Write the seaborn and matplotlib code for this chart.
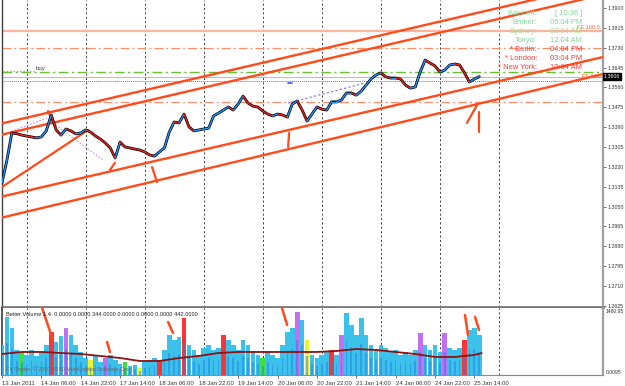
import matplotlib
matplotlib.use("Agg")
import matplotlib.pyplot as plt
import seaborn as sns
import pandas as pd
import numpy as np

sns.set_theme(style="white")
plt.rcParams['font.family'] = ['Liberation Sans', 'DejaVu Sans']

# ---------------- data ----------------
bars = list(range(0, 196, 2))
close = [1.3151, 1.3249, 1.3365, 1.3362, 1.3356, 1.3352, 1.3348, 1.3344, 1.3348, 1.3374,
         1.3442, 1.3378, 1.3356, 1.3382, 1.3374, 1.3361, 1.3365, 1.3378, 1.3369, 1.3352,
         1.3339, 1.3322, 1.3301, 1.3258, 1.3326, 1.3305, 1.3301, 1.3296, 1.3292, 1.3284,
         1.3271, 1.3266, 1.3284, 1.3301, 1.3369, 1.3412, 1.3408, 1.3446, 1.3391, 1.3374,
         1.3378, 1.3382, 1.3386, 1.3438, 1.3450, 1.3463, 1.3476, 1.3463, 1.3489, 1.3523,
         1.3493, 1.3480, 1.3476, 1.3459, 1.3446, 1.3438, 1.3446, 1.3442, 1.3433, 1.3489,
         1.3502, 1.3463, 1.3416, 1.3446, 1.3476, 1.3467, 1.3463, 1.3498, 1.3498, 1.3506,
         1.3536, 1.3536, 1.3527, 1.3544, 1.3570, 1.3596, 1.3613, 1.3622, 1.3605, 1.3600,
         1.3600, 1.3596, 1.3570, 1.3557, 1.3562, 1.3626, 1.3677, 1.3664, 1.3652, 1.3626,
         1.3634, 1.3656, 1.3660, 1.3656, 1.3622, 1.3583, 1.3596, 1.3606]

volume = [696, 1346, 1090, 580, 534, 464, 580, 441, 534, 696,
          998, 766, 905, 1090, 928, 696, 534, 394, 348, 441,
          302, 394, 464, 348, 255, 302, 209, 232, 162, 302,
          348, 394, 348, 580, 928, 812, 882, 1322, 696, 580,
          464, 626, 696, 580, 626, 928, 812, 696, 580, 812,
          696, 534, 464, 394, 534, 464, 394, 696, 998, 1090,
          1460, 1276, 812, 464, 394, 464, 534, 580, 464, 928,
          1440, 1160, 928, 1322, 928, 696, 580, 696, 626, 534,
          580, 464, 534, 464, 580, 974, 696, 580, 696, 534,
          974, 626, 580, 626, 812, 1044, 1090, 928]
vol_type = list("nnnngnnnnn" "rnnmnnnnyn" "nmnnngnnyn" "nnrnnnnrnn"
                "nnnnnrnnnn" "nnngnnnnnn" "mnynnnnrnm" "nnnnnnnnnn"
                "nnnnnmnnnn" "mnnnrnnn")

vma_bars = [0, 8, 16, 24, 32, 40, 48, 56, 64, 72, 80, 88, 96, 104, 112, 120,
            128, 136, 144, 152, 160, 168, 176, 184, 192, 195]
vma = [487, 534, 534, 510, 487, 441, 394, 325, 325, 394, 441, 510, 534, 534, 534, 534,
       534, 557, 603, 580, 534, 487, 418, 418, 464, 510]

tick_bars = [0, 16, 32, 48, 64, 80, 96, 112, 128, 144, 160, 176, 192]
tick_labels = ["13 Jan 2011", "14 Jan 06:00", "14 Jan 22:00", "17 Jan 14:00",
               "18 Jan 06:00", "18 Jan 22:00", "19 Jan 14:00", "20 Jan 06:00",
               "20 Jan 22:00", "21 Jan 14:00", "24 Jan 06:00", "24 Jan 22:00",
               "25 Jan 14:00"]
day_bars = [10, 34, 58, 82, 106, 130, 154, 178, 202]
price_ticks = [1.3900, 1.3815, 1.3730, 1.3645, 1.3560, 1.3475, 1.3390, 1.3305,
               1.3220, 1.3135, 1.3050, 1.2965, 1.2880, 1.2795, 1.2710, 1.2625]

# channel lines (start bar, start price, end bar, end price)
chan_b0 = [0, 0, 0, 0]
chan_p0 = [1.3406, 1.3358, 1.3093, 1.3003]
chan_b1 = [244.3, 244.3, 244.3, 244.3]
chan_p1 = [1.4004, 1.3957, 1.3690, 1.3617]

# short annotation strokes in price panel
strk_b0 = [0, 18.7, 43.9, 61.0, 116.7, 189.0, 193.9]
strk_p0 = [1.3134, 1.3459, 1.3207, 1.3219, 1.3365, 1.3408, 1.3455]
strk_b1 = [35.0, 20.7, 45.9, 63.0, 116.3, 193.1, 193.9]
strk_p1 = [1.3378, 1.3412, 1.3237, 1.3155, 1.3305, 1.3485, 1.3369]

# strokes in volume panel
vstrk_b0 = [16.3, 42.7, 67.5, 113.8, 188.2, 192.3]
vstrk_v0 = [1554, 766, 1230, 1554, 1392, 1346]
vstrk_b1 = [20.7, 43.9, 69.5, 115.9, 189.4, 193.9]
vstrk_v1 = [812, 534, 974, 1160, 928, 1044]

# horizontal levels
lvl_fe100 = 1.3803
lvl_upper = 1.3730
lvl_buy = 1.3627
lvl_bid = 1.3603
lvl_fe618 = 1.3588
lvl_lower = 1.3498
last_price = 1.3606

info_labels = ["Bar Left:", "Broker:", "Sydney:", "Tokyo:", "* Berlin:", "* London:", "* New York:"]
info_values = ["[ 10:36 ]", "05:04 PM", "02:04 AM", "12:04 AM", "04:04 PM", "03:04 PM", "10:04 AM"]

# ---------------- figure ----------------
W, H = 625, 386
fig = plt.figure(figsize=(W / 100, H / 100), dpi=100)
fig.patch.set_facecolor('white')


def px_axes(l, t, r, b):
    return fig.add_axes([l / W, 1 - b / H, (r - l) / W, (b - t) / H])


ax = px_axes(2, 0, 603, 307)
axv = px_axes(2, 308, 603, 375)
for a in (ax, axv):
    a.set_facecolor('white')
    a.set_xlim(0, 244.3)

ax.set_ylim(1.3934 - 307 / 2337, 1.3934)
axv.set_ylim(0, 1553.7)

ORG = '#FF4A1C'
grid_kw = dict(color='#3a3a3a', lw=0.7, linestyle=(0, (2, 2.5)), zorder=1)
for b in day_bars:
    ax.axvline(b, **grid_kw)
    axv.axvline(b, **grid_kw)

# horizontal levels
ax.axhline(lvl_fe100, color='#FFB39E', lw=1.6, zorder=2)
ax.axhline(lvl_upper, color='#FF8C6A', lw=0.9, linestyle=(0, (7, 2.5, 1.5, 2.5)), zorder=2)
ax.axhline(lvl_lower, color='#FF8C6A', lw=0.9, linestyle=(0, (7, 2.5, 1.5, 2.5)), zorder=2)
ax.axhline(lvl_buy, color='#66C22E', lw=1.0, linestyle=(0, (7, 2.5, 1.5, 2.5)), zorder=2)
ax.axhline(lvl_bid, color='#BDBDBD', lw=0.8, zorder=2)
ax.axhline(lvl_fe618, color='#FF3A3A', lw=0.7, linestyle=(0, (1, 1)), zorder=2)

# channel lines
for b0, p0, b1, p1 in zip(chan_b0, chan_p0, chan_b1, chan_p1):
    ax.plot([b0, b1], [p0, p1], color=ORG, lw=1.7, zorder=4, solid_capstyle='butt')
for b0, p0, b1, p1 in zip(strk_b0, strk_p0, strk_b1, strk_p1):
    ax.plot([b0, b1], [p0, p1], color=ORG, lw=1.6, zorder=4)

# dotted helper lines
ax.plot([0, 18.3], [1.3356, 1.3429], color='#EE82EE', lw=0.8, linestyle=(0, (1.5, 1.5)), zorder=3)
ax.plot([20.7, 41.0], [1.3408, 1.3249], color='#EE82EE', lw=0.8, linestyle=(0, (1.5, 1.5)), zorder=3)
ax.plot([116.3, 147.6], [1.3493, 1.3579], color='#7272E6', lw=0.8, linestyle=(0, (2, 2)), zorder=3)
ax.plot([116.3, 118.0], [1.3579, 1.3579], color='#3355DD', lw=1.2, zorder=3)

# price series
df = pd.DataFrame({'bar': bars, 'close': close})
sns.lineplot(data=df, x='bar', y='close', ax=ax, color='black', lw=2.0, zorder=5)
for i in range(len(bars) - 1):
    c = '#1E90FF' if close[i + 1] >= close[i] else '#E8231A'
    ax.plot(bars[i:i + 2], close[i:i + 2], color=c, lw=1.0, zorder=6, solid_capstyle='round')

# texts in price panel
ax.text(13.5, lvl_buy + 0.0002, "buy", fontsize=4.4, color='#444444', va='bottom', ha='left', zorder=7)
ax.plot([0.5, 13], [lvl_buy + 0.0003, lvl_buy + 0.0003], color='#888888', lw=0.6,
        linestyle=(0, (1.5, 2.5)), zorder=3)
ax.text(0.995, lvl_fe100 + 0.0001, "FE 100.0", transform=ax.get_yaxis_transform(),
        fontsize=4.0, color='#FF5A30', ha='right', va='bottom', zorder=7)
ax.text(0.998, last_price, "FE 61.8", transform=ax.get_yaxis_transform(),
        fontsize=4.0, color='#FF5A30', ha='right', va='center', zorder=7)

green = '#7FD79B'
red = '#FF3B3B'
row_cols = [green, green, '#A6D98C', green, red, red, red]
for i, (lab, val, c) in enumerate(zip(info_labels, info_values, row_cols)):
    yy = 1 - (13.3 + 9.1 * i) / H
    fig.text(537 / W, yy, lab, fontsize=5.4, color=c, ha='right', va='center', zorder=10)
    fig.text(582 / W, yy, val, fontsize=5.4, color=c, ha='right', va='center', zorder=10)

# price axis on the right
ax.yaxis.tick_right()
ax.set_yticks(price_ticks)
ax.set_yticklabels([f"{p:.4f}" for p in price_ticks])
ax.tick_params(axis='y', right=True, length=2.0, width=0.6, color='#555555',
               labelsize=3.8, labelcolor='#333333', pad=1.2)
ax.set_xticks([])
ax.set_xlabel('')
ax.set_ylabel('')
ax.text(1.0015, last_price, "1.3606", transform=ax.get_yaxis_transform(), fontsize=3.8,
        color='white', ha='left', va='center', clip_on=False, zorder=12,
        bbox=dict(boxstyle='square,pad=0.25', fc='black', ec='black'))

ax.spines['top'].set_visible(False)
ax.spines['left'].set_color('#404040')
ax.spines['left'].set_linewidth(1.0)
ax.spines['right'].set_color('#A0A0A0')
ax.spines['right'].set_linewidth(1.6)
ax.spines['bottom'].set_color('#7A7A7A')
ax.spines['bottom'].set_linewidth(2.0)

# ---------------- volume panel ----------------
col_map = {'n': '#3CC2EA', 'r': '#FF3434', 'y': '#F2F22A', 'g': '#3FDF3F', 'm': '#C070F0'}
axv.bar(bars, volume, width=1.9, color=[col_map[t] for t in vol_type],
        edgecolor='none', zorder=3, align='center')
axv.bar(bars, [v * 0.55 for v in volume], width=0.7, color='#1F7FE8', edgecolor='none',
        zorder=3, alpha=0.5)
dv = pd.DataFrame({'bar': vma_bars, 'vma': vma})
sns.lineplot(data=dv, x='bar', y='vma', ax=axv, color='#8B1212', lw=1.3, zorder=5)
for b0, v0, b1, v1 in zip(vstrk_b0, vstrk_v0, vstrk_b1, vstrk_v1):
    axv.plot([b0, b1], [v0, v1], color=ORG, lw=1.8, zorder=6, clip_on=False)

axv.text(1.5, 1455, "Better Volume 1.4  0.0000 0.0000 344.0000 0.0000 0.0000 0.0000 442.0000",
         fontsize=4.1, color='#222222', ha='left', va='top', zorder=7)
axv.text(1.5, 60, "FX Trader, \u00a9 2001-2010 MetaQuotes Software Corp.", fontsize=3.9,
         color='#666666', ha='left', va='bottom', zorder=7)

axv.set_yticks([])
axv.set_ylabel('')
axv.set_xlabel('')
axv.set_xticks(tick_bars)
axv.set_xticklabels(tick_labels)
axv.tick_params(axis='x', bottom=True, length=2.5, width=0.6, color='#555555',
                labelsize=4.3, labelcolor='#333333', pad=1.5)
for lab in axv.get_xticklabels():
    lab.set_horizontalalignment('left')
axv.text(1.004, 1460.95, "1460.95", transform=axv.get_yaxis_transform(), fontsize=3.6,
         color='#333333', ha='left', va='center', clip_on=False)
axv.text(1.004, 60, "0.0095", transform=axv.get_yaxis_transform(), fontsize=3.6,
         color='#333333', ha='left', va='center', clip_on=False)
axv.spines['top'].set_visible(False)
axv.spines['left'].set_color('#404040')
axv.spines['right'].set_color('#A0A0A0')
axv.spines['right'].set_linewidth(1.6)
axv.spines['bottom'].set_color('#8A8A8A')
axv.spines['bottom'].set_linewidth(0.8)
axv.spines['bottom'].set_linestyle((0, (2, 1)))

fig.savefig("out.png", dpi=100, facecolor='white')
